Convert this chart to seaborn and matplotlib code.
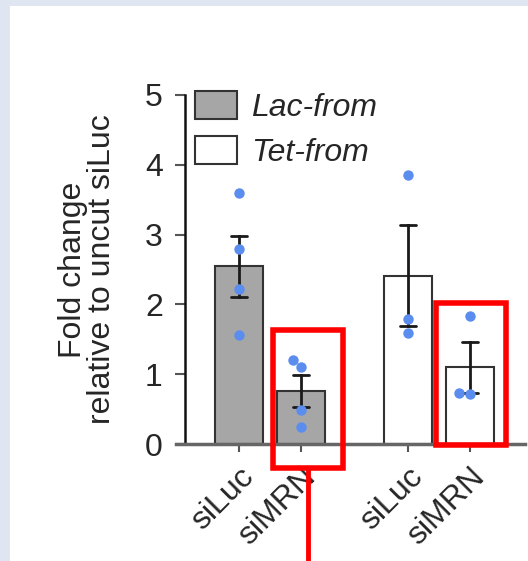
import pandas as pd
import numpy as np
import matplotlib.pyplot as plt
from matplotlib.patches import Rectangle
import seaborn as sns

# Data
groups = ["Lac-from", "Lac-from", "Tet-from", "Tet-from"]
sirna = ["siLuc", "siMRN", "siLuc", "siMRN"]
positions = [0, 1, 2.72, 3.72]
replicates = [
    [3.60, 2.80, 2.22, 1.56],
    [1.10, 1.20, 0.49, 0.25],
    [3.86, 1.79, 1.59],
    [1.84, 0.73, 0.72],
]

rows = []
for g, s, p, vals in zip(groups, sirna, positions, replicates):
    for v in vals:
        rows.append({"group": g, "sirna": s, "pos": p, "value": v})
df = pd.DataFrame(rows)

sns.set_style("white")
plt.rcParams["font.family"] = ["Liberation Sans", "DejaVu Sans"]
plt.rcParams["font.size"] = 23

fig = plt.figure(figsize=(5.28, 5.61), dpi=100)
fig.patch.set_facecolor("#dfe6f2")
fig.add_artist(Rectangle((10 / 528, 0), 1, 1 - 6 / 561, transform=fig.transFigure,
                         facecolor="white", edgecolor="none", zorder=-10))
ax = fig.add_axes([176 / 528, 1 - 444 / 561, 349 / 528, 349 / 561])
ax.patch.set_alpha(0)

sns.barplot(data=df, x="pos", y="value", hue="group", native_scale=True,
            palette={"Lac-from": "#a6a6a6", "Tet-from": "white"},
            errorbar="se", capsize=0.26, width=0.77,
            edgecolor="#333333", linewidth=1.5,
            err_kws={"color": "#1a1a1a", "linewidth": 2}, ax=ax)
sns.swarmplot(data=df, x="pos", y="value", native_scale=True,
              color="#5b8def", size=7.5, ax=ax, zorder=5)

ax.set_xlim(-1.016, 4.61)
ax.set_ylim(0, 5)
ax.set_yticks([0, 1, 2, 3, 4, 5])
ax.set_xticks(positions)
ax.set_xticklabels(sirna, rotation=45, ha="right", va="top", rotation_mode="anchor")
ax.set_xlabel("")
ax.set_ylabel("Fold change\nrelative to uncut siLuc", linespacing=0.95)
ax.yaxis.set_label_coords(-0.17, 0.5)

for side in ["top", "right"]:
    ax.spines[side].set_visible(False)
ax.spines["left"].set_position(("data", -0.87))
ax.spines["left"].set_linewidth(1.8)
ax.spines["left"].set_color("#111111")
ax.spines["bottom"].set_linewidth(2.5)
ax.spines["bottom"].set_color("#666666")
ax.tick_params(axis="y", direction="out", length=7, width=1.5, color="#555555", pad=9, left=True)
ax.tick_params(axis="x", direction="out", length=6, width=1.5, color="#555555", pad=7, bottom=True)

handles, labels = ax.get_legend_handles_labels()
ax.legend(handles[:2], labels[:2], loc="upper left", bbox_to_anchor=(0.055, 1.012),
          frameon=False, borderaxespad=0, borderpad=0, handlelength=1.3,
          handleheight=1.0, handletextpad=0.45, labelspacing=0.4,
          prop={"style": "italic", "size": 23})

# red highlight boxes
red = "#ff0000"
ax.add_patch(Rectangle((0.55, -0.34), 1.12, 1.97, fill=False, edgecolor=red,
                       linewidth=4, clip_on=False, zorder=10))
ax.add_patch(Rectangle((3.18, -0.01), 1.12, 2.03, fill=False, edgecolor=red,
                       linewidth=4, clip_on=False, zorder=10))
ax.plot([1.11, 1.11], [-0.34, -1.8], color=red, linewidth=3.5, clip_on=False, zorder=10)

fig.savefig("out.png", dpi=100, facecolor=fig.get_facecolor())
